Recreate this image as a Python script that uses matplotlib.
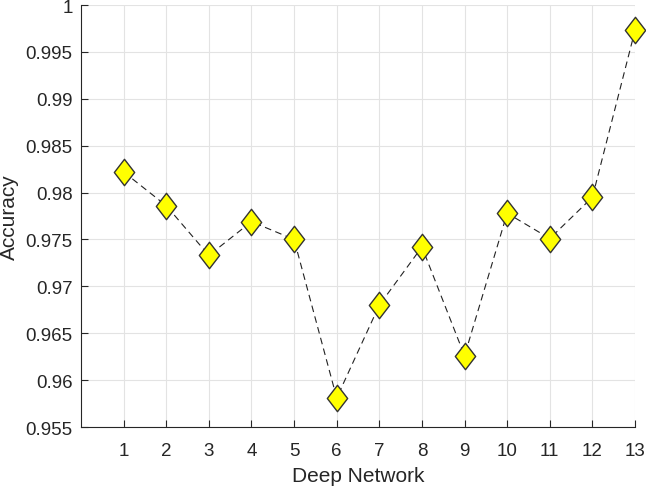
import numpy as np
import matplotlib.pyplot as plt
from matplotlib.path import Path

plt.rcParams['font.family'] = ['Liberation Sans', 'DejaVu Sans']

networks = [1, 2, 3, 4, 5, 6, 7, 8, 9, 10, 11, 12, 13]
accuracy = [0.9822, 0.9786, 0.9733, 0.9769, 0.9750, 0.9581, 0.9680,
            0.9742, 0.9626, 0.9778, 0.9751, 0.9795, 0.9973]
y_ticks = [0.955, 0.96, 0.965, 0.97, 0.975, 0.98, 0.985, 0.99, 0.995, 1]
y_tick_labels = ['0.955', '0.96', '0.965', '0.97', '0.975', '0.98',
                 '0.985', '0.99', '0.995', '1']

# matlab style diamond (taller than wide)
diamond = Path([(0, 1), (0.77, 0), (0, -1), (-0.77, 0), (0, 1)],
               [Path.MOVETO, Path.LINETO, Path.LINETO, Path.LINETO, Path.CLOSEPOLY])

fig = plt.figure(figsize=(6.46, 4.89), dpi=100)
ax = fig.add_axes([0.1254, 0.1247, 0.8576, 0.8630])

ax.plot(networks, accuracy, color='#222222', linestyle=(0, (6, 4)), linewidth=0.8,
        marker=diamond, markersize=19, markerfacecolor='#ffff00',
        markeredgecolor='#333333', markeredgewidth=1.0, zorder=3, clip_on=False)

ax.set_xlim(0, 13)
ax.set_ylim(0.955, 1)
ax.set_xticks(networks)
ax.set_yticks(y_ticks)
ax.set_yticklabels(y_tick_labels)
ax.grid(True, color='#e3e3e3', linewidth=0.8)
ax.set_axisbelow(True)

for s in ['top', 'right']:
    ax.spines[s].set_visible(False)
for s in ['left', 'bottom']:
    ax.spines[s].set_color('#262626')
    ax.spines[s].set_linewidth(0.8)

ax.tick_params(direction='in', length=5, width=0.8, colors='#262626',
               labelsize=13.5)
ax.tick_params(axis='x', pad=11)
ax.tick_params(axis='y', pad=6)
ax.set_xlabel('Deep Network', fontsize=15, color='#262626', labelpad=5)
ax.set_ylabel('Accuracy', fontsize=15, color='#262626')
ax.yaxis.set_label_coords(-0.112, 0.5)

fig.savefig('out.png', dpi=100)
